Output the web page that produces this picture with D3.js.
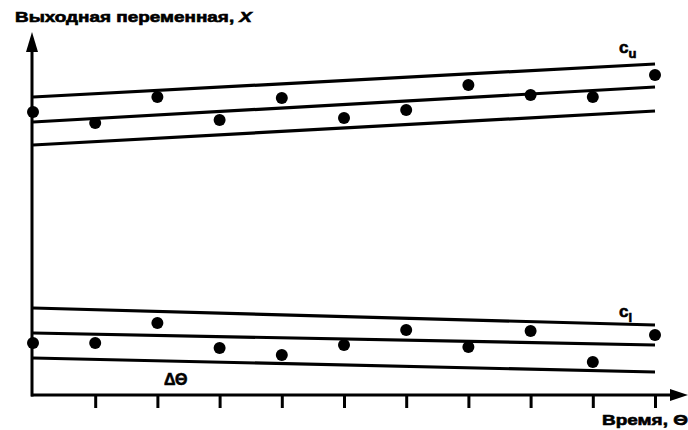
<!DOCTYPE html>
<html>
<head>
<meta charset="utf-8">
<script src="https://cdn.jsdelivr.net/npm/d3@7.9.0/dist/d3.min.js"></script>
<style>
  body { margin: 0; background: #fff; }
  svg text { font-family: "Liberation Sans", Arial, sans-serif; font-weight: bold; fill: #000; stroke: #000; stroke-width: 0.6; }
</style>
</head>
<body>
<svg id="chart" width="688" height="430"></svg>
<script>
// time steps (x-axis ticks) and sampled values
const times = [0, 1, 2, 3, 4, 5, 6, 7, 8, 9, 10];
const upperPoints = [28.3, 27.2, 29.8, 27.5, 29.7, 27.7, 28.5, 31.0, 30.0, 29.8, 32.0];
const lowerPoints = [5.2, 5.2, 7.2, 4.7, 4.0, 5.0, 6.5, 4.8, 6.4, 3.3, 6.0];

// trend lines: [value at t=0, value at t=10]
const upperLines = [[29.8, 33.1], [27.3, 30.8], [25.0, 28.4]];
const lowerLines = [[8.7, 7.0], [6.2, 5.0], [3.7, 2.3]];

const svg = d3.select('#chart');

const x = d3.scaleLinear().domain([0, 10]).range([33, 655]);
const y = d3.scaleLinear().domain([0, 36]).range([395, 35]);

// axes
const xAxis = d3.axisBottom(x)
    .tickValues(times.slice(1))
    .tickSize(13)
    .tickFormat('');
const gx = svg.append('g')
    .attr('transform', `translate(0,${y(0)})`)
    .call(xAxis);
gx.select('.domain').remove();
gx.selectAll('.tick line').attr('stroke', '#000').attr('stroke-width', 3);

svg.append('line')
    .attr('x1', 31).attr('x2', 678)
    .attr('y1', y(0)).attr('y2', y(0))
    .attr('stroke', '#000').attr('stroke-width', 3);
svg.append('line')
    .attr('x1', 32).attr('x2', 32)
    .attr('y1', y(0) + 1.5).attr('y2', 45)
    .attr('stroke', '#000').attr('stroke-width', 3);

// arrowheads
svg.append('path')
    .attr('d', 'M32,32 L38,52 L26,52 Z')
    .attr('fill', '#000');
svg.append('path')
    .attr('d', `M688,${y(0)} L670,${y(0) - 6} L670,${y(0) + 6} Z`)
    .attr('fill', '#000');

// band lines
const drawLines = (lines) => {
    lines.forEach(([a, b]) => {
        svg.append('line')
            .attr('x1', x(0)).attr('y1', y(a))
            .attr('x2', x(10)).attr('y2', y(b))
            .attr('stroke', '#000')
            .attr('stroke-width', 3.2);
    });
};
drawLines(upperLines);
drawLines(lowerLines);

// dots
const drawDots = (values) => {
    svg.append('g')
        .selectAll('circle')
        .data(values)
        .join('circle')
        .attr('cx', (d, i) => x(times[i]))
        .attr('cy', (d) => y(d))
        .attr('r', 6)
        .attr('fill', '#000');
};
drawDots(upperPoints);
drawDots(lowerPoints);

// labels
svg.append('text')
    .attr('x', 15).attr('y', 22)
    .attr('font-size', 14)
    .attr('textLength', 237)
    .attr('lengthAdjust', 'spacingAndGlyphs')
    .html('Выходная переменная, <tspan font-style="italic">X</tspan>');

const cu = svg.append('text')
    .attr('x', 619).attr('y', 53)
    .attr('font-size', 17);
cu.append('tspan').text('c');
cu.append('tspan').attr('font-size', 13).attr('dy', 5).text('u');

const cl = svg.append('text')
    .attr('x', 619).attr('y', 317)
    .attr('font-size', 17);
cl.append('tspan').text('c');
cl.append('tspan').attr('font-size', 13).attr('dy', 5).text('l');

svg.append('text')
    .attr('x', 164).attr('y', 385)
    .attr('font-size', 16)
    .text('ΔΘ');

svg.append('text')
    .attr('x', 602).attr('y', 425)
    .attr('font-size', 15)
    .attr('textLength', 86)
    .attr('lengthAdjust', 'spacingAndGlyphs')
    .text('Время, Θ');
</script>
</body>
</html>
